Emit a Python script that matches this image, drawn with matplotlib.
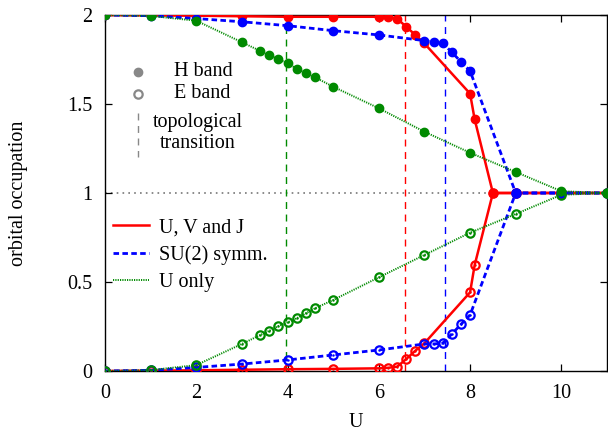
import matplotlib
matplotlib.use("Agg")
import matplotlib.pyplot as plt

plt.rcParams['font.family'] = ['Liberation Serif', 'DejaVu Serif']

# U, V and J (red)
u_uvj = [0, 1, 2, 3, 4, 5, 6, 6.2, 6.4, 6.6, 6.8, 7, 8, 8.1, 8.5, 9, 10, 11]
h_uvj = [2.0, 1.998, 1.996, 1.993, 1.99, 1.99, 1.99, 1.988, 1.98, 1.934, 1.888, 1.84,
         1.558, 1.414, 1.0, 1.0, 1.0, 1.0]
e_uvj = [0.0, 0.002, 0.004, 0.007, 0.01, 0.012, 0.015, 0.018, 0.024, 0.067, 0.114, 0.156,
         0.442, 0.595, 1.0, 1.0, 1.0, 1.0]

# SU(2) symm. (blue)
u_su2 = [0, 1, 2, 3, 4, 5, 6, 7, 7.2, 7.4, 7.6, 7.8, 8, 9, 10, 11]
h_su2 = [2.0, 1.996, 1.98, 1.962, 1.94, 1.912, 1.888, 1.856, 1.849, 1.843, 1.79, 1.738,
         1.685, 1.0, 1.0, 1.0]
e_su2 = [0.0, 0.004, 0.02, 0.039, 0.062, 0.09, 0.118, 0.152, 0.152, 0.156, 0.208, 0.262,
         0.315, 1.0, 1.0, 1.0]

# U only (green)
u_uo = [0, 1, 2, 3, 3.4, 3.6, 3.8, 4.0, 4.2, 4.4, 4.6, 5, 6, 7, 8, 9, 10, 11]
h_uo = [2.0, 1.995, 1.968, 1.847, 1.798, 1.775, 1.751, 1.729, 1.698, 1.676, 1.65, 1.597,
        1.476, 1.344, 1.226, 1.118, 1.01, 1.0]
e_uo = [0.0, 0.005, 0.033, 0.152, 0.202, 0.226, 0.253, 0.273, 0.296, 0.324, 0.352, 0.399,
        0.526, 0.652, 0.777, 0.882, 0.99, 1.0]

# topological transitions
u_trans = {'uvj': 6.57, 'su2': 7.46, 'uo': 3.97}

xticks = [0, 2, 4, 6, 8, 10]
yticks = [0, 0.5, 1, 1.5, 2]
ytick_labels = ['0', '0.5', '1', '1.5', '2']

RED, BLUE, GREEN = '#ff0000', '#0000ff', '#008a00'
FS = 14.5

fig = plt.figure(figsize=(6.08, 4.33), dpi=100)
ax = fig.add_axes([105 / 608, 62 / 433, 502 / 608, 356 / 433])

ax.axhline(1.0, color='#777777', ls=(0, (1, 2.5)), lw=1.2, zorder=1)
ax.axvline(u_trans['uvj'], color=RED, ls=(0, (5, 4)), lw=1.0, zorder=1)
ax.axvline(u_trans['su2'], color=BLUE, ls=(0, (5, 4)), lw=1.0, zorder=1)
ax.axvline(u_trans['uo'], color=GREEN, ls=(0, (5, 4)), lw=1.0, zorder=1)

ms = 6
styles = [
    (u_uvj, h_uvj, e_uvj, RED, '-', 1.8, 'U, V and J'),
    (u_su2, h_su2, e_su2, BLUE, (0, (2, 1.2)), 2.0, 'SU(2) symm.'),
    (u_uo, h_uo, e_uo, GREEN, (0, (0.6, 0.6)), 1.4, 'U only'),
]
handles = []
for k, (u, h, e, c, ls, lw, lab) in enumerate(styles):
    ln, = ax.plot(u, h, color=c, ls=ls, lw=lw, marker='o', ms=ms, mec=c, mfc=c,
                  zorder=3 + k, label=lab)
    ax.plot(u, e, color=c, ls=ls, lw=lw, marker='o', ms=ms, mec=c, mfc='none',
            mew=1.6, zorder=3 + k)
    ax.plot(u, e, ls='none', marker='.', ms=1.5, color=c, zorder=3 + k)
    handles.append(ln)

ax.set_xlim(0, 11)
ax.set_ylim(0, 2)
ax.set_xticks(xticks)
ax.set_yticks(yticks)
ax.set_yticklabels(ytick_labels)
ax.tick_params(direction='in', length=5, width=0.9, top=True, right=True,
               labelsize=FS, pad=9)
for s in ax.spines.values():
    s.set_linewidth(1.0)


# pixel -> axes fraction helpers
def fx(px):
    return (px - 105) / 502


def fy(py):
    return (371 - py) / 356


ax.set_xlabel('U', fontsize=FS, va='bottom')
ax.set_ylabel('orbital occupation', fontsize=FS)
ax.xaxis.set_label_coords(0.5, fy(432))
ax.yaxis.set_label_coords(fx(28), 0.5)

# band / transition key
ax.plot([fx(138)], [fy(71.5)], transform=ax.transAxes, marker='o', ms=6,
        color='#888888', ls='none', clip_on=False)
ax.plot([fx(138)], [fy(93.5)], transform=ax.transAxes, marker='o', ms=6,
        mfc='none', mec='#888888', mew=1.6, ls='none', clip_on=False)
ax.plot([fx(138), fx(138)], [fy(113), fy(157)], transform=ax.transAxes,
        color='#888888', ls=(0, (5, 4)), lw=1.0)
ax.text(fx(174), fy(71.5), 'H band', transform=ax.transAxes, fontsize=FS,
        va='center', ha='left')
ax.text(fx(174), fy(93.5), 'E band', transform=ax.transAxes, fontsize=FS,
        va='center', ha='left')
ax.text(fx(198), fy(133), 'topological\ntransition', transform=ax.transAxes,
        fontsize=FS, va='center', ha='center', multialignment='center',
        linespacing=1.1)

leg = ax.legend(handles=handles, loc='center left', bbox_to_anchor=(0.0, fy(255)),
                frameon=False, fontsize=FS, handlelength=1.8, handletextpad=0.5,
                labelspacing=0.4, borderaxespad=0.0)
for lh in leg.get_lines():
    lh.set_marker('')

fig.savefig('out.png', dpi=100)
